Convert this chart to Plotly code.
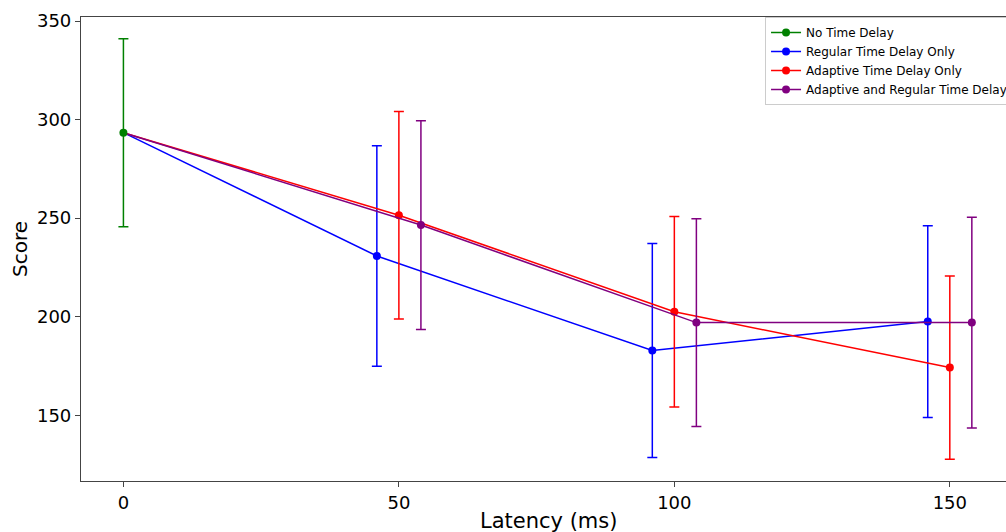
import plotly.graph_objects as go

# ---- data ----
latency_ms = [0, 50, 100, 150]
baseline_score = [293.4]
baseline_err = [47.7]

regular_score = [230.8, 182.8, 197.5]
regular_err = [56.0, 54.3, 48.7]

adaptive_score = [251.5, 202.5, 174.2]
adaptive_err = [52.7, 48.3, 46.5]

both_score = [246.5, 197.0, 197.0]
both_err = [53.0, 52.7, 53.5]

names = ["No Time Delay", "Regular Time Delay Only",
         "Adaptive Time Delay Only", "Adaptive and Regular Time Delay"]
colors = ["green", "blue", "red", "purple"]
dodge = [0, -4, 0, 4]

fig = go.Figure()

series = [
    (regular_score, regular_err, 1),
    (adaptive_score, adaptive_err, 2),
    (both_score, both_err, 3),
]
for scores, errs, i in series:
    xs = [l + dodge[i] for l in latency_ms[1:]]
    # connector from the shared no-delay baseline to the first point
    fig.add_trace(go.Scatter(
        x=[latency_ms[0], xs[0]], y=[baseline_score[0], scores[0]],
        mode="lines", showlegend=False, hoverinfo="skip",
        line=dict(color=colors[i], width=1.5),
    ))
    fig.add_trace(go.Scatter(
        x=xs, y=scores, mode="lines+markers", name=names[i], legendrank=i + 1,
        line=dict(color=colors[i], width=1.5),
        marker=dict(color=colors[i], size=8),
        error_y=dict(type="data", array=errs, visible=True, color=colors[i],
                     thickness=1.5, width=5),
    ))

# baseline drawn last (on top), listed first in legend
fig.add_trace(go.Scatter(
    x=latency_ms[:1], y=baseline_score, mode="lines+markers", name=names[0],
    legendrank=0,
    line=dict(color=colors[0], width=1.5),
    marker=dict(color=colors[0], size=8),
    error_y=dict(type="data", array=baseline_err, visible=True, color=colors[0],
                 thickness=1.5, width=5),
))

font = "DejaVu Sans, Arial, sans-serif"
fig.update_layout(
    width=1006, height=532,
    margin=dict(l=81, r=0, t=17, b=51, autoexpand=False),
    paper_bgcolor="white", plot_bgcolor="white",
    font=dict(family=font, color="black"),
    showlegend=True,
    legend=dict(x=0.7395, y=1.0, xanchor="left", yanchor="top",
                bgcolor="white", bordercolor="#cccccc", borderwidth=1,
                font=dict(size=12, family=font), tracegroupgap=0),
    xaxis=dict(range=[-7.7, 160.2], tickvals=[0, 50, 100, 150],
               showgrid=False, zeroline=False, showline=True, mirror=True,
               linecolor="#444444", linewidth=1.2, ticks="outside", ticklen=5,
               tickcolor="#444444", tickfont=dict(size=18)),
    yaxis=dict(range=[116.6, 352.1], tickvals=[150, 200, 250, 300, 350],
               showgrid=False, zeroline=False, showline=True, mirror=False,
               linecolor="#444444", linewidth=1.2, ticks="outside", ticklen=5,
               tickcolor="#444444", tickfont=dict(size=18)),
    annotations=[
        dict(text="Latency (ms)", xref="paper", yref="paper", x=0.505, y=-0.086,
             xanchor="center", yanchor="middle", showarrow=False,
             font=dict(size=21, family=font)),
        dict(text="Score", xref="paper", yref="paper", x=-0.066, y=0.5,
             xanchor="center", yanchor="middle", textangle=-90, showarrow=False,
             font=dict(size=20, family=font)),
    ],
)

fig.write_html("out.html")
